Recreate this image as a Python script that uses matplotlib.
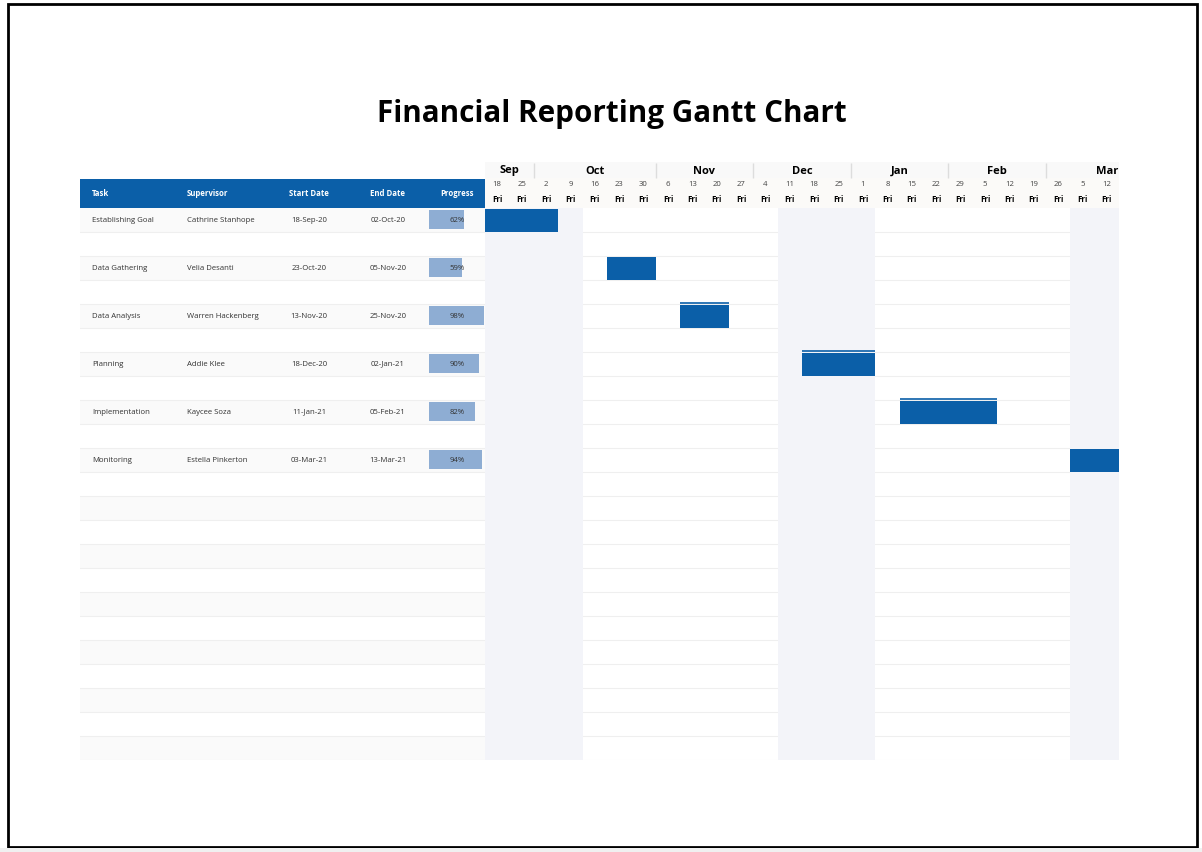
import matplotlib
matplotlib.use("Agg")
import matplotlib.pyplot as plt
from matplotlib.patches import Rectangle
import numpy as np
import pandas as pd

plt.rcParams['font.family'] = ['Open Sans', 'DejaVu Sans']

# Table data
tasks = ["Establishing Goal", "Data Gathering", "Data Analysis",
         "Planning", "Implementation", "Monitoring"]
supervisors = ["Cathrine Stanhope", "Velia Desanti", "Warren Hackenberg",
               "Addie Klee", "Kaycee Soza", "Estella Pinkerton"]
start_dates = ["2020-09-18", "2020-10-23", "2020-11-13",
               "2020-12-18", "2021-01-11", "2021-03-03"]
end_dates = ["2020-10-02", "2020-11-05", "2020-11-25",
             "2021-01-02", "2021-02-05", "2021-03-13"]
progress = [62, 59, 98, 90, 82, 94]

# Timeline: one column per Friday
week_dates = pd.date_range("2020-09-18", periods=26, freq="7D")
month_names = ["Sep", "Oct", "Nov", "Dec", "Jan", "Feb", "Mar"]
month_first_col = [0, 2, 7, 11, 15, 19, 23]
month_ncols = [2, 5, 4, 4, 4, 4, 5]
shaded_cols = [(0, 4), (12, 16), (24, 28)]

n_rows = 23
W, H = 1202, 852
BLUE = '#0b5fa8'
LIGHT_BLUE = '#8eadd3'
SHADE = '#f3f4f9'
ROW_ALT = '#fafafa'
LINE = '#efefef'
TXT = '#333333'
FS = 5.6


def box(x0, y0, x1, y1):
    return [x0 / W, 1 - y1 / H, (x1 - x0) / W, (y1 - y0) / H]


fig = plt.figure(figsize=(W / 100, H / 100), dpi=100)
fig.patch.set_facecolor('white')

fig.text(612 / W, 1 - 114 / H, "Financial Reporting Gantt Chart",
         ha='center', va='center', fontsize=21.3, fontweight='bold', color='black')

# ---- left table ----
ax_tab = fig.add_axes(box(80, 179, 485, 760))
ax_tab.set_xlim(0, 405)
ax_tab.set_ylim(581, 0)
ax_tab.axis('off')
ax_tab.axhspan(0, 29, color=BLUE, lw=0)
for r in range(n_rows):
    y0 = 29 + 24 * r
    if r % 2 == 0:
        ax_tab.axhspan(y0, y0 + 24, color=ROW_ALT, lw=0)
    ax_tab.axhline(y0 + 24, color=LINE, lw=0.8)

hdr_kw = dict(va='center', fontsize=FS, fontweight='bold', color='white')
ax_tab.text(12, 15, "Task", ha='left', **hdr_kw)
ax_tab.text(107, 15, "Supervisor", ha='left', **hdr_kw)
ax_tab.text(229, 15, "Start Date", ha='center', **hdr_kw)
ax_tab.text(308, 15, "End Date", ha='center', **hdr_kw)
ax_tab.text(377, 15, "Progress", ha='center', **hdr_kw)

cell_kw = dict(va='center', fontsize=FS, color=TXT)
for i, task in enumerate(tasks):
    yc = 29 + 24 * (2 * i) + 12
    s = pd.Timestamp(start_dates[i]).strftime("%d-%b-%y")
    e = pd.Timestamp(end_dates[i]).strftime("%d-%b-%y")
    ax_tab.text(12, yc, task, ha='left', **cell_kw)
    ax_tab.text(107, yc, supervisors[i], ha='left', **cell_kw)
    ax_tab.text(229, yc, s, ha='center', **cell_kw)
    ax_tab.text(308, yc, e, ha='center', **cell_kw)

# progress column
ax_p = fig.add_axes(box(429, 208, 485, 760))
ax_p.set_xlim(0, 100)
ax_p.set_ylim(n_rows, 0)
ax_p.axis('off')
ax_p.patch.set_visible(False)
rows = np.arange(len(tasks)) * 2
ax_p.barh(rows + 0.48, progress, height=0.8, color=LIGHT_BLUE, lw=0)
for r, p in zip(rows, progress):
    ax_p.text(50, r + 0.5, f"{p}%", ha='center', va='center', fontsize=FS, color=TXT)

# ---- timeline body ----
ax_t = fig.add_axes(box(485, 208, 1119, 760))
ax_t.set_xlim(0, len(week_dates))
ax_t.set_ylim(n_rows, 0)
ax_t.axis('off')
for r in range(1, n_rows + 1):
    ax_t.axhline(r, color=LINE, lw=0.8, zorder=1)
for a, b in shaded_cols:
    ax_t.axvspan(a, b, color=SHADE, lw=0, zorder=2)

for i in range(len(tasks)):
    s, e = pd.Timestamp(start_dates[i]), pd.Timestamp(end_dates[i])
    cols = np.where((week_dates >= s) & (week_dates <= e))[0]
    ax_t.barh(2 * i + 0.52, len(cols), left=cols[0], height=0.95,
              color=BLUE, lw=0, zorder=3)
    if 2 <= i <= 4:
        ax_t.hlines(2 * i - 0.05, cols[0], cols[0] + len(cols),
                    color=BLUE, lw=1.2, zorder=3)

# ---- timeline header ----
ax_h = fig.add_axes(box(485, 162, 1119, 208))
ax_h.set_xlim(0, len(week_dates))
ax_h.set_ylim(46, 0)
ax_h.axis('off')
ax_h.axhspan(0, 16, color='#f9f9f9', lw=0)
ax_h.axhspan(16, 46, color='#fbfaf8', lw=0)
for name, c0, n in zip(month_names, month_first_col, month_ncols):
    ax_h.text(c0 + n / 2, 9, name, ha='center', va='center',
              fontsize=8, fontweight='bold', color='black')
ax_h.vlines(month_first_col[1:], 1, 16, color='#dddddd', lw=1)
for c, d in enumerate(week_dates):
    ax_h.text(c + 0.5, 23, str(d.day), ha='center', va='center',
              fontsize=5.6, color='#444444')
    ax_h.text(c + 0.5, 38, d.strftime("%a"), ha='center', va='center',
              fontsize=5.6, fontweight='bold', color='black')

# page frame
fig.add_artist(Rectangle((8 / W, 1 - 847 / H), 1189 / W, 843 / H,
                         transform=fig.transFigure, fill=False, ec='black', lw=2))
fig.add_artist(Rectangle((0, 0), 1, 4 / H, transform=fig.transFigure,
                         fc='#f0f0f0', ec='none'))

fig.savefig("out.png", dpi=100)
